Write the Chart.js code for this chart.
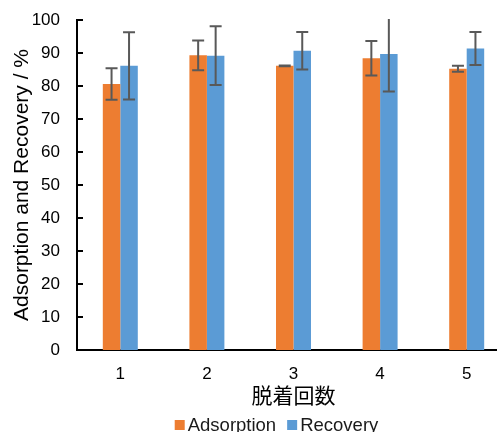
<!DOCTYPE html>
<html>
<head>
<meta charset="utf-8">
<script src="https://cdn.jsdelivr.net/npm/chart.js@4.4.0/dist/chart.umd.min.js"></script>
<style>
  html, body { margin: 0; padding: 0; background: #fff; }
  #wrap { width: 497px; height: 432px; overflow: hidden; }
</style>
</head>
<body>
<div id="wrap"><canvas id="chart" width="510" height="432"></canvas></div>
<script>
const cycles = ['1', '2', '3', '4', '5'];
const adsorption = [80.6, 89.3, 86.1, 88.4, 85.2];
const adsorptionErr = [4.8, 4.5, 0.1, 5.2, 0.9];
const recovery = [86.1, 89.2, 90.7, 89.7, 91.4];
const recoveryErr = [10.2, 8.9, 5.7, 11.4, 5.0];
const yTicks = [0, 10, 20, 30, 40, 50, 60, 70, 80, 90, 100];

const latin = '"Liberation Sans", Arial, sans-serif';

// small tick marks pointing into the plot, like Excel
const innerTicks = {
  id: 'innerTicks',
  afterDraw(chart) {
    const y = chart.scales.y, ctx = chart.ctx, left = chart.chartArea.left;
    ctx.save();
    ctx.strokeStyle = '#000';
    ctx.lineWidth = 2;
    y.ticks.forEach(t => {
      const py = Math.round(y.getPixelForValue(t.value));
      ctx.beginPath();
      ctx.moveTo(left, py);
      ctx.lineTo(left + 6, py);
      ctx.stroke();
    });
    ctx.restore();
  }
};

const errorBars = {
  id: 'errorBars',
  afterDatasetsDraw(chart) {
    const ctx = chart.ctx, y = chart.scales.y, area = chart.chartArea;
    ctx.save();
    ctx.beginPath();
    ctx.rect(area.left, area.top - 1, area.right - area.left, area.bottom - area.top + 1);
    ctx.clip();
    ctx.strokeStyle = '#595959';
    ctx.lineWidth = 2;
    chart.data.datasets.forEach((ds, i) => {
      chart.getDatasetMeta(i).data.forEach((bar, j) => {
        const v = ds.data[j], e = ds.errors[j];
        const top = y.getPixelForValue(v + e), bot = y.getPixelForValue(v - e);
        ctx.beginPath();
        ctx.moveTo(bar.x, top); ctx.lineTo(bar.x, bot);
        ctx.moveTo(bar.x - 6, top); ctx.lineTo(bar.x + 6, top);
        ctx.moveTo(bar.x - 6, bot); ctx.lineTo(bar.x + 6, bot);
        ctx.stroke();
      });
    });
    ctx.restore();
  }
};

const bottomLegend = {
  id: 'bottomLegend',
  afterDraw(chart) {
    const ctx = chart.ctx;
    ctx.save();
    ctx.font = '18.5px ' + latin;
    ctx.textBaseline = 'alphabetic';
    const box = 10, gap = 3, itemGap = 11, base = 431;
    const items = chart.data.datasets.map(ds => ({
      text: ds.label, color: ds.backgroundColor, w: ctx.measureText(ds.label).width
    }));
    const total = items.reduce((s, it) => s + box + gap + it.w, 0) + itemGap * (items.length - 1);
    let x = 276.5 - total / 2;
    items.forEach(it => {
      ctx.fillStyle = it.color;
      ctx.fillRect(x, base - 11, box, box);
      ctx.fillStyle = '#1a1a1a';
      ctx.fillText(it.text, x + box + gap, base);
      x += box + gap + it.w + itemGap;
    });
    ctx.restore();
  }
};

new Chart(document.getElementById('chart'), {
  type: 'bar',
  data: {
    labels: cycles,
    datasets: [
      { label: 'Adsorption', data: adsorption, errors: adsorptionErr, backgroundColor: '#ED7D31',
        categoryPercentage: 0.404, barPercentage: 1 },
      { label: 'Recovery', data: recovery, errors: recoveryErr, backgroundColor: '#5B9BD5',
        categoryPercentage: 0.404, barPercentage: 1 }
    ]
  },
  options: {
    responsive: false,
    animation: false,
    layout: { padding: { left: 11.6, top: 20, right: 0, bottom: 26.6 } },
    plugins: {
      legend: { display: false },
      tooltip: { enabled: false }
    },
    scales: {
      x: {
        afterFit: s => { s.height = 55.4; },
        grid: { display: false, drawTicks: false },
        border: { color: '#000', width: 2 },
        ticks: { color: '#000', font: { family: latin, size: 17 }, padding: 14 },
        title: {
          display: true, text: '脱着回数', color: '#000',
          font: { family: '"Noto Sans CJK JP", sans-serif', size: 21, lineHeight: 1 },
          padding: 0
        }
      },
      y: {
        min: 0, max: 100,
        afterBuildTicks: s => { s.ticks = yTicks.map(v => ({ value: v })); },
        afterFit: s => { s.width = 65.4; s.paddingTop = 0; s.paddingBottom = 0; },
        grid: { display: false, drawTicks: false },
        border: { color: '#000', width: 2 },
        ticks: { color: '#000', font: { family: latin, size: 17 }, padding: 17 },
        title: {
          display: true, text: 'Adsorption and Recovery / %', color: '#000',
          font: { family: latin, size: 21, lineHeight: 1 },
          padding: 0
        }
      }
    }
  },
  plugins: [innerTicks, errorBars, bottomLegend]
});
</script>
</body>
</html>
